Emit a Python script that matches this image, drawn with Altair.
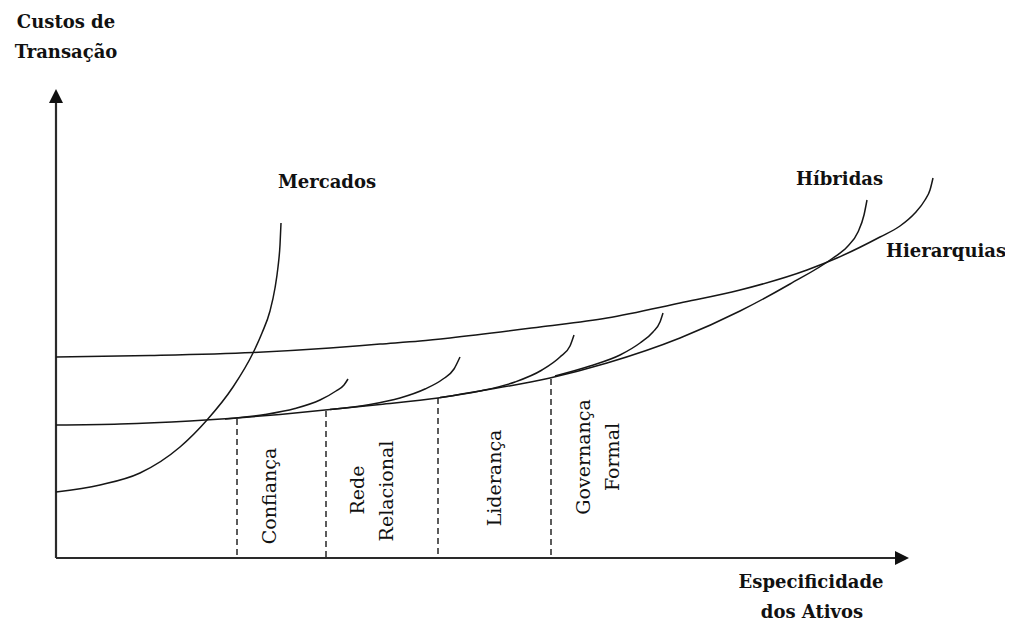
import altair as alt
import pandas as pd

# ---- data (x = especificidade, y = custo; origin at axes crossing)
hier_x = [0, 94, 197, 274, 324, 364, 394, 484, 551, 624, 684, 751, 781, 824, 844, 859, 869, 874, 877]
hier_y = [201, 202.5, 205.5, 210, 214, 217, 220, 231, 240, 255, 268, 288, 300, 321, 332, 345, 358, 368, 380]

hib_x = [0, 64, 134, 181, 224, 269, 324, 382, 424, 494, 551, 624, 684, 734, 777, 791, 802, 808, 811]
hib_y = [133, 134, 137, 140, 143.5, 148, 153.5, 160, 167, 180, 195, 220, 247, 274, 300, 311, 326, 343, 358]

merc_x = [0, 44, 84, 124, 151, 177, 197, 206, 214, 219, 222, 224, 225]
merc_y = [66, 73, 85, 111, 138, 171, 205, 225, 247, 270, 291, 313, 335]

b1_x = [169, 209, 239, 264, 280, 288, 292]
b1_y = [139, 143.5, 149.5, 158, 167, 173, 179]
b2_x = [274, 314, 344, 369, 387, 398, 404]
b2_y = [148.5, 153.5, 160, 169, 179, 189, 201]
b3_x = [384, 424, 459, 486, 504, 514, 518]
b3_y = [160.5, 167, 176, 188, 201, 212, 223]
b4_x = [499, 534, 564, 584, 597, 604, 607]
b4_y = [182, 192, 203, 215, 226, 236, 245]

div_x = [181, 270, 382, 495]
div_top = [139, 147, 160, 179]

axis_end_x = 839
axis_end_y = 455
arrow_x = [0, 846]
arrow_y = [462, 0]

bold_labels = ["Mercados", "Híbridas", "Hierarquias", "Custos de", "Transação",
               "Especificidade", "dos Ativos"]
bold_x = [271, 783.5, 890, 10, 10, 755, 756]
bold_y = [375, 378, 306, 535, 505, -25, -55]

rot_labels = ["Confiança", "Rede", "Relacional", "Liderança", "Governança", "Formal"]
rot_x = [214, 302, 331, 439, 528, 557]
rot_y = [62, 68, 67, 80, 101, 101]

# ---- tables
rows = []
for name, xs, ys in [("Hierarquias", hier_x, hier_y), ("Híbridas", hib_x, hib_y),
                     ("Mercados", merc_x, merc_y), ("b1", b1_x, b1_y), ("b2", b2_x, b2_y),
                     ("b3", b3_x, b3_y), ("b4", b4_x, b4_y)]:
    for i, (a, b) in enumerate(zip(xs, ys)):
        rows.append({"curve": name, "i": i, "x": a, "y": b})
curves = pd.DataFrame(rows)

divs = pd.DataFrame({"x": div_x, "y": div_top, "y0": [0] * len(div_x)})
axes = pd.DataFrame({"x": [0, 0], "y": [0, 0], "x2": [0, axis_end_x], "y2": [axis_end_y, 0]})
arrows = pd.DataFrame({"x": arrow_x, "y": arrow_y,
                       "shape": ["M0,-1L1,1L-1,1Z", "M1,0L-1,-1L-1,1Z"]})
blab = pd.DataFrame({"t": bold_labels, "x": bold_x, "y": bold_y})
rlab = pd.DataFrame({"t": rot_labels, "x": rot_x, "y": rot_y})

XS = alt.Scale(domain=[-48, 949], nice=False, zero=False)
YS = alt.Scale(domain=[-66, 550], nice=False, zero=False)

def X(f="x"):
    return alt.X(f"{f}:Q", scale=XS, axis=None)

def Y(f="y"):
    return alt.Y(f"{f}:Q", scale=YS, axis=None)

lines = alt.Chart(curves).mark_line(interpolate="monotone", color="#161616",
                                    strokeWidth=1.5).encode(
    x=X(), y=Y(), detail="curve:N", order="i:Q")

dashes = alt.Chart(divs).mark_rule(color="#333333", strokeWidth=1.6,
                                   strokeDash=[6, 4]).encode(
    x=X(), y=Y(), y2="y0:Q")

axis_lines = alt.Chart(axes).mark_rule(color="#2a2a2a", strokeWidth=2.2).encode(
    x=X(), y=Y(), x2="x2:Q", y2="y2:Q")

arrow_pts = alt.Chart(arrows).mark_point(filled=True, opacity=1, color="#111111",
                                         size=196, strokeWidth=0).encode(
    x=X(), y=Y(), shape=alt.Shape("shape:N", scale=None))

bold_text = alt.Chart(blab).mark_text(font="DejaVu Serif", fontWeight="bold", fontSize=18,
                                      align="center", baseline="middle",
                                      color="#111111").encode(
    x=X(), y=Y(), text="t:N")

rot_text = alt.Chart(rlab).mark_text(font="DejaVu Serif", fontSize=19, angle=270,
                                     align="center", baseline="middle",
                                     color="#111111").encode(
    x=X(), y=Y(), text="t:N")

chart = alt.layer(axis_lines, dashes, lines, arrow_pts, bold_text, rot_text).properties(
    width=997, height=616, padding=0,
    autosize=alt.AutoSizeParams(type="none"),
    background="white",
).configure_view(stroke=None)

chart.save("out.html", embed_options={"renderer": "svg", "actions": False})
